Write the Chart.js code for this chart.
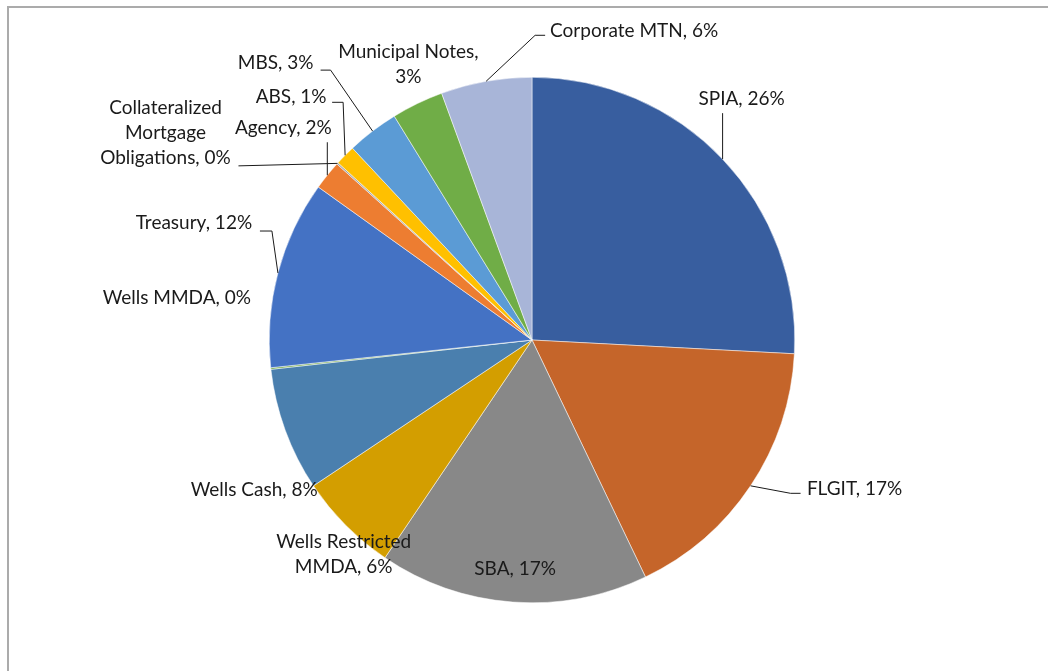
<!DOCTYPE html>
<html>
<head>
<meta charset="utf-8">
<script src="https://cdn.jsdelivr.net/npm/chart.js@4"></script>
<style>
    body { margin: 0; background: #fff; overflow: hidden; }
    #wrap { position: relative; width: 1048px; height: 671px; }
    #frame { position: absolute; left: 7px; top: 6px; width: 1100px; height: 700px;
             border-top: 2px solid #ababab; border-left: 2px solid #ababab; }
</style>
</head>
<body>
<div id="wrap">
    <div id="frame"></div>
    <canvas id="portfolioChart" width="1048" height="671"></canvas>
</div>
<script>
// Portfolio allocation, clockwise from 12 o'clock
const categories = ["SPIA", "FLGIT", "SBA", "Wells Restricted MMDA", "Wells Cash", "Wells MMDA",
    "Treasury", "Agency", "Collateralized Mortgage Obligations", "ABS", "MBS",
    "Municipal Notes", "Corporate MTN"];
const shares = [25.9, 17.1, 16.6, 6.2, 7.6, 0.1, 11.6, 1.8, 0.1, 1.25, 3.2, 3.2, 5.6];
const sliceColors = ['#385e9f', '#c5652a', '#888888', '#d39e00', '#4a7fae', '#6fa844',
    '#4472c4', '#ed7d31', '#a5a5a5', '#ffc000', '#5b9bd5', '#70ad47', '#a8b5d8'];

// label placement relative to the slice's outer mid point (dx, dy = text centre; lead = leader line)
const labelLayout = [
    { dx: 19, dy: -60, lead: [[0, 0], [0, -46]] },
    { dx: 104, dy: 3, lead: [[0, 0], [40, 7.5], [50, 7.5]] },
    { inside: 0.875 },
    { dx: -2, dy: 29, wrap: 145 },
    { dx: -31, dy: 60 },
    { dx: -94, dy: -71 },
    { dx: -84, dy: -50, lead: [[0, 0], [-6, -42], [-18, -42]] },
    { dx: -44, dy: -47, lead: [[0, 0], [0, -33]] },
    { dx: -172, dy: -30, wrap: 135, lead: [[0, 0], [-99, 2.5]] },
    { dx: -54, dy: -58, lead: [[0, 0], [-2, -53], [-13, -53]] },
    { dx: -97, dy: -68, lead: [[0, 0], [-42, -61], [-52, -61]] },
    { dx: -9, dy: -39, wrap: 150 },
    { dx: 148, dy: -50, lead: [[0, 0], [49, -46], [59, -46]] }
];

function wrapText(ctx, text, width) {
    if (!width) return [text];
    const words = text.split(' ');
    const lines = [];
    let cur = '';
    words.forEach(w => {
        const test = cur ? cur + ' ' + w : w;
        if (cur && ctx.measureText(test).width > width) {
            lines.push(cur);
            cur = w;
        } else {
            cur = test;
        }
    });
    if (cur) lines.push(cur);
    return lines;
}

const pieLabels = {
    id: 'pieLabels',
    afterDatasetsDraw(chart) {
        const ctx = chart.ctx;
        const meta = chart.getDatasetMeta(0);
        const data = chart.data.datasets[0].data;
        const total = data.reduce((a, b) => a + b, 0);
        ctx.save();
        ctx.font = '19px Lato';
        ctx.fillStyle = '#1a1a1a';
        ctx.textAlign = 'center';
        ctx.textBaseline = 'middle';
        meta.data.forEach((arc, i) => {
            const lay = labelLayout[i];
            const mid = (arc.startAngle + arc.endAngle) / 2;
            const r = lay.inside ? arc.outerRadius * lay.inside : arc.outerRadius;
            const ex = arc.x + Math.cos(mid) * r;
            const ey = arc.y + Math.sin(mid) * r;
            if (lay.lead) {
                ctx.strokeStyle = '#1a1a1a';
                ctx.lineWidth = 1;
                ctx.beginPath();
                lay.lead.forEach((p, j) => {
                    if (j === 0) ctx.moveTo(ex + p[0], ey + p[1]);
                    else ctx.lineTo(ex + p[0], ey + p[1]);
                });
                ctx.stroke();
            }
            const text = categories[i] + ', ' + Math.round(data[i] / total * 100) + '%';
            const lines = wrapText(ctx, text, lay.wrap);
            const cx = ex + (lay.dx || 0);
            const cy = ey + (lay.dy || 0);
            const lh = 25;
            lines.forEach((ln, k) => {
                ctx.fillText(ln, cx, cy + (k - (lines.length - 1) / 2) * lh);
            });
        });
        ctx.restore();
    }
};

const portfolioChart = new Chart(document.getElementById('portfolioChart'), {
    type: 'pie',
    data: {
        labels: categories,
        datasets: [{
            data: shares,
            backgroundColor: sliceColors,
            borderColor: '#ffffff',
            borderWidth: 0.5
        }]
    },
    options: {
        responsive: false,
        animation: false,
        layout: { padding: { left: 269, right: 253, top: 77, bottom: 68 } },
        plugins: {
            legend: { display: false },
            tooltip: { enabled: false }
        }
    },
    plugins: [pieLabels]
});
</script>
</body>
</html>
